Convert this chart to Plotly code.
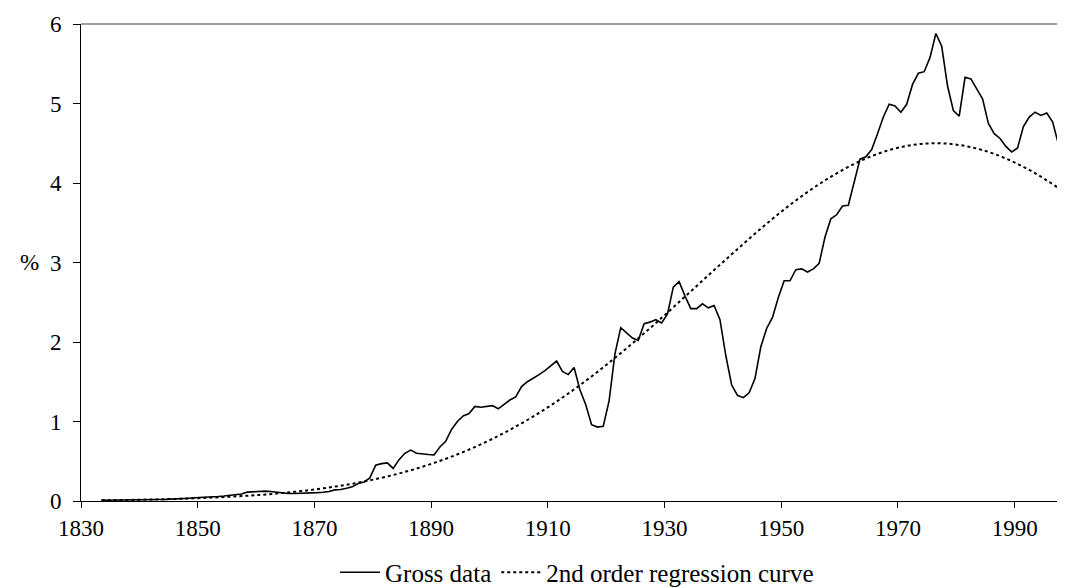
import plotly.graph_objects as go

# ---- data -------------------------------------------------------------
years = list(range(1833, 2000))
gross = [
    # 1833-1839
    0.01, 0.01, 0.01, 0.01, 0.01, 0.01, 0.01,
    # 1840s
    0.012, 0.014, 0.016, 0.018, 0.02, 0.022, 0.025, 0.03, 0.035, 0.04,
    # 1850s
    0.042, 0.046, 0.052, 0.056, 0.062, 0.068, 0.078, 0.088, 0.112, 0.118,
    # 1860s
    0.12, 0.124, 0.12, 0.11, 0.10, 0.095, 0.094, 0.095, 0.098, 0.10,
    # 1870s
    0.105, 0.11, 0.12, 0.14, 0.145, 0.16, 0.18, 0.22, 0.24, 0.29,
    # 1880s
    0.45, 0.47, 0.48, 0.41, 0.52, 0.60, 0.64, 0.60, 0.59, 0.585,
    # 1890s
    0.58, 0.68, 0.75, 0.90, 1.00, 1.07, 1.10, 1.19, 1.18, 1.19,
    # 1900s
    1.20, 1.16, 1.22, 1.27, 1.31, 1.44, 1.50, 1.54, 1.59, 1.64,
    # 1910s
    1.70, 1.76, 1.63, 1.59, 1.68, 1.40, 1.21, 0.96, 0.93, 0.94,
    # 1920s
    1.26, 1.85, 2.18, 2.12, 2.05, 2.02, 2.23, 2.25, 2.28, 2.24,
    # 1930s
    2.35, 2.69, 2.76, 2.58, 2.42, 2.42, 2.48, 2.43, 2.46, 2.28,
    # 1940s
    1.83, 1.46, 1.33, 1.30, 1.36, 1.54, 1.94, 2.17, 2.31, 2.56,
    # 1950s
    2.77, 2.77, 2.91, 2.92, 2.88, 2.92, 2.99, 3.32, 3.55, 3.60,
    # 1960s
    3.71, 3.72, 4.01, 4.30, 4.33, 4.42, 4.62, 4.83, 4.99, 4.97,
    # 1970s
    4.89, 4.99, 5.24, 5.38, 5.40, 5.58, 5.88, 5.72, 5.22, 4.91,
    # 1980s
    4.84, 5.33, 5.31, 5.19, 5.06, 4.75, 4.62, 4.56, 4.46, 4.39,
    # 1990s
    4.44, 4.71, 4.83, 4.89, 4.85, 4.88, 4.77, 4.49, 4.49, 4.31,
]

reg_years = [1833, 1836, 1839, 1842, 1845, 1848, 1851, 1854, 1857, 1860,
             1863, 1866, 1869, 1872, 1875, 1878, 1881, 1884, 1887, 1890,
             1893, 1896, 1899, 1902, 1905, 1908, 1911, 1914, 1917, 1920,
             1923, 1926, 1929, 1932, 1935, 1938, 1941, 1944, 1947, 1950,
             1953, 1956, 1959, 1962, 1965, 1968, 1971, 1974, 1977, 1980,
             1983, 1986, 1989, 1992, 1995, 1998, 1999]
reg_values = [0.009, 0.012, 0.015, 0.020, 0.025, 0.031, 0.040, 0.050, 0.062, 0.076,
              0.094, 0.115, 0.140, 0.170, 0.205, 0.245, 0.292, 0.346, 0.408, 0.479,
              0.558, 0.647, 0.746, 0.856, 0.977, 1.108, 1.251, 1.404, 1.567, 1.740,
              1.921, 2.109, 2.304, 2.503, 2.704, 2.905, 3.104, 3.299, 3.488, 3.667,
              3.834, 3.986, 4.122, 4.240, 4.338, 4.414, 4.466, 4.495, 4.499, 4.478,
              4.434, 4.366, 4.275, 4.164, 4.034, 3.886, 3.834]

x_ticks = [1830, 1850, 1870, 1890, 1910, 1930, 1950, 1970, 1990]
y_ticks = [0, 1, 2, 3, 4, 5, 6]

assert len(years) == len(gross)
assert len(reg_years) == len(reg_values)

# points sit in the middle of each yearly category
gx = [y + 0.5 for y in years]
rx = [y + 0.5 for y in reg_years]

FONT = "Liberation Serif, Times New Roman, serif"
TICK_SIZE = 23
LEG_SIZE = 25

fig = go.Figure()
fig.add_trace(go.Scatter(
    x=gx, y=gross, mode="lines", name="Gross data",
    line=dict(color="black", width=1.6),
))
fig.add_trace(go.Scatter(
    x=rx, y=reg_values, mode="lines", name="2nd order regression curve",
    line=dict(color="black", width=2, dash="3px,3px", shape="spline"),
))

fig.update_layout(
    width=1065, height=588,
    margin=dict(l=73, r=0, t=16, b=91),
    paper_bgcolor="white", plot_bgcolor="white",
    font=dict(family=FONT, size=TICK_SIZE, color="black"),
    showlegend=True,
    legend=dict(orientation="h", x=0.5, xanchor="center",
                y=-0.15, yanchor="middle",
                font=dict(family=FONT, size=LEG_SIZE, color="black"),
                bgcolor="rgba(0,0,0,0)", itemwidth=40, tracegroupgap=0),
    xaxis=dict(range=[1830, 2000], tickvals=x_ticks,
               ticktext=[str(t) for t in x_ticks],
               showgrid=False, zeroline=False,
               showline=True, linecolor="black", linewidth=1,
               ticks="outside", ticklen=6, tickcolor="black", tickwidth=1,
               tickfont=dict(family=FONT, size=TICK_SIZE, color="black")),
    yaxis=dict(range=[0, 6], tickvals=y_ticks,
               showgrid=False, zeroline=False,
               showline=True, linecolor="black", linewidth=1,
               ticks="outside", ticklen=7, tickcolor="black", tickwidth=1,
               ticklabelstandoff=7,
               tickfont=dict(family=FONT, size=TICK_SIZE, color="black")),
    shapes=[dict(type="line", xref="paper", yref="paper",
                 x0=0, x1=1, y0=1, y1=1,
                 line=dict(color="#808080", width=1.5))],
    annotations=[dict(text="%", xref="paper", yref="y", x=0, y=3,
                      xanchor="right", yanchor="middle", xshift=-40,
                      showarrow=False,
                      font=dict(family=FONT, size=TICK_SIZE, color="black"))],
)

fig.write_html("out.html")
